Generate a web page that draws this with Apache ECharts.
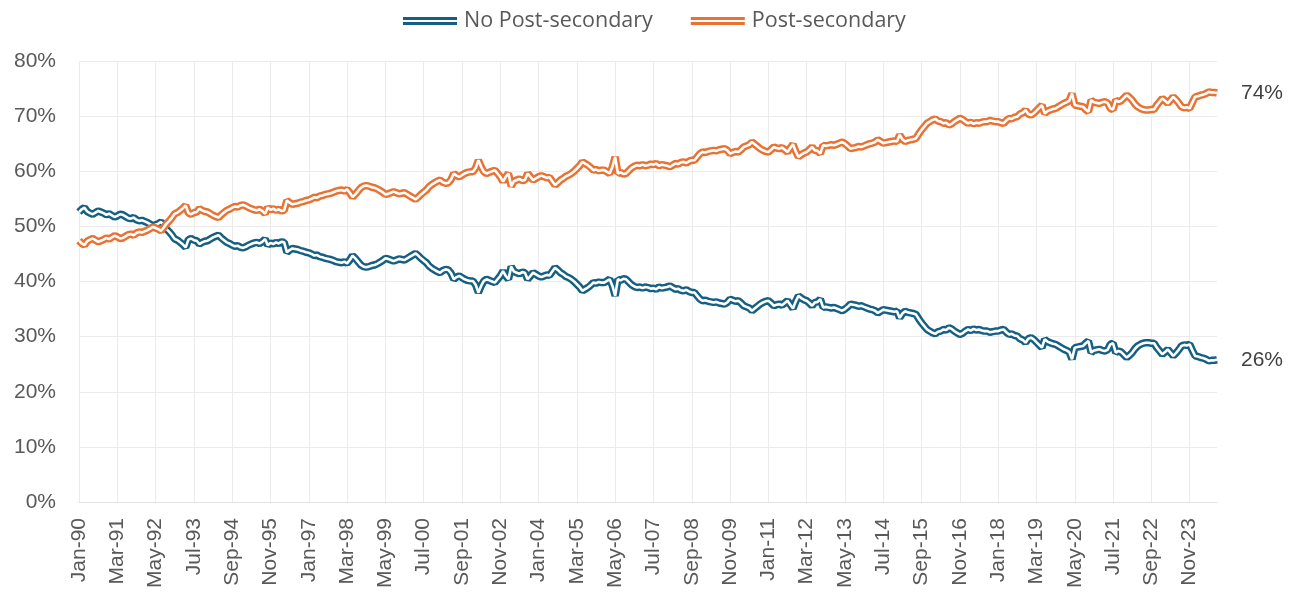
<!DOCTYPE html>
<html>
<head>
<meta charset="utf-8">
<script src="https://cdn.jsdelivr.net/npm/echarts@6/dist/echarts.min.js"></script>
<style>
  html, body { margin: 0; padding: 0; background: #fff; }
  #chart { width: 1294px; height: 593px; }
</style>
</head>
<body>
<div id="chart"></div>
<script>
// monthly share of employment, Jan-90 .. Sep-24
const months = ['Jan', 'Feb', 'Mar', 'Apr', 'May', 'Jun', 'Jul', 'Aug', 'Sep', 'Oct', 'Nov', 'Dec'];
const seriesNames = ['No Post-secondary', 'Post-secondary'];

const postSecondary = [
  47.4, 46.9, 46.6, 47.3, 47.6, 47.8, 47.5, 47.2, 47.4, 47.6, 47.9, 47.7,
  48.0, 48.3, 48.1, 47.8, 47.9, 48.2, 48.5, 48.6, 48.4, 48.8, 49.0, 48.9,
  49.1, 49.3, 49.6, 49.9, 49.7, 49.5, 49.2, 49.8, 50.5, 51.0, 51.6, 52.3,
  52.5, 52.9, 53.3, 53.8, 52.4, 52.2, 52.5, 52.6, 53.2, 52.9, 52.7, 52.6,
  52.3, 52.0, 51.8, 51.6, 52.1, 52.5, 52.9, 53.1, 53.4, 53.6, 53.5, 53.8,
  53.9, 53.7, 53.4, 53.2, 53.0, 52.9, 53.1, 52.8, 52.3, 53.4, 53.0, 53.2,
  52.9, 53.1, 52.8, 52.9, 54.7, 54.3, 54.0, 54.1, 54.2, 54.4, 54.5, 54.7,
  54.8, 55.0, 55.3, 55.2, 55.5, 55.6, 55.8, 55.9, 56.0, 56.2, 56.4, 56.5,
  56.6, 56.4, 56.7, 56.1, 55.3, 55.8, 56.4, 57.0, 57.3, 57.4, 57.3, 57.1,
  57.0, 56.8, 56.5, 56.2, 55.8, 55.9, 56.1, 56.3, 56.1, 55.9, 56.0, 56.1,
  55.8, 55.5, 55.2, 54.9, 55.3, 55.8, 56.2, 56.6, 57.2, 57.6, 57.9, 58.2,
  58.4, 58.0, 57.8, 57.9, 58.5, 59.6, 59.2, 59.0, 59.3, 59.6, 59.8, 59.9,
  59.9, 60.6, 62.0, 60.8, 59.9, 59.6, 59.8, 60.0, 60.2, 59.6, 59.0, 58.1,
  59.0, 59.6, 57.3, 58.2, 58.4, 58.6, 58.3, 58.4, 59.6, 59.0, 58.4, 58.7,
  59.0, 59.2, 59.0, 58.8, 58.9, 58.2, 57.5, 57.9, 58.4, 58.7, 59.1, 59.3,
  59.6, 60.0, 60.5, 61.0, 61.7, 61.4, 61.1, 60.7, 60.2, 60.3, 60.1, 60.2,
  60.2, 59.9, 59.6, 60.8, 62.6, 59.6, 59.8, 59.5, 59.6, 60.1, 60.6, 60.9,
  61.1, 61.0, 61.2, 61.0, 61.1, 61.3, 61.2, 61.4, 61.0, 61.2, 61.1, 61.0,
  60.8, 61.1, 61.4, 61.3, 61.6, 61.7, 61.5, 61.8, 62.0, 62.0, 62.6, 63.2,
  63.5, 63.4, 63.6, 63.7, 63.8, 63.7, 63.9, 64.0, 64.1, 63.8, 63.2, 63.4,
  63.6, 63.5, 63.9, 64.4, 64.6, 64.8, 65.3, 64.9, 64.5, 64.1, 63.8, 63.6,
  63.5, 63.9, 64.4, 64.2, 64.1, 64.3, 63.9, 63.5, 64.2, 64.9, 63.6, 62.6,
  63.0, 63.3, 63.5, 63.9, 64.4, 63.8, 63.7, 63.2, 64.7, 64.6, 64.7, 64.8,
  64.7, 64.9, 65.1, 65.3, 65.0, 64.6, 64.1, 64.2, 64.3, 64.5, 64.4, 64.6,
  64.8, 65.0, 65.1, 65.3, 65.7, 65.4, 65.1, 65.2, 65.3, 65.4, 65.5, 65.4,
  66.6, 65.8, 65.4, 65.6, 65.7, 65.8, 66.0, 66.8, 67.5, 68.1, 68.7, 69.0,
  69.3, 69.5, 69.1, 69.0, 68.7, 68.8, 68.4, 68.6, 69.0, 69.3, 69.6, 69.4,
  69.0, 68.7, 68.9, 68.6, 68.8, 68.7, 68.9, 69.0, 69.0, 69.2, 69.1, 69.0,
  69.0, 68.8, 68.7, 69.2, 69.6, 69.5, 69.8, 69.9, 70.4, 70.6, 71.1, 70.4,
  70.2, 70.5, 71.0, 71.5, 72.0, 70.5, 70.9, 71.1, 71.3, 71.4, 71.7, 72.0,
  72.3, 72.5, 72.8, 74.1, 72.0, 71.9, 71.8, 71.7, 71.2, 70.8, 72.9, 72.5,
  72.4, 72.3, 72.5, 72.6, 72.4, 71.4, 71.2, 72.9, 72.6, 72.8, 73.3, 73.8,
  73.4, 72.9, 72.2, 71.7, 71.4, 71.2, 71.1, 71.1, 71.2, 71.2, 72.0, 72.6,
  73.2, 72.8, 72.3, 72.9, 73.5, 73.0, 72.4, 71.7, 71.5, 71.6, 71.4, 72.5,
  73.5, 73.6, 73.8, 73.9, 74.1, 74.4, 74.3, 74.3, 74.2
];

const noPostSecondary = [
  52.6, 53.1, 53.4, 52.7, 52.4, 52.2, 52.5, 52.8, 52.6, 52.4, 52.1, 52.3,
  52.0, 51.7, 51.9, 52.2, 52.1, 51.8, 51.5, 51.4, 51.6, 51.2, 51.0, 51.1,
  50.9, 50.7, 50.4, 50.1, 50.3, 50.5, 50.8, 50.2, 49.5, 49.0, 48.4, 47.7,
  47.5, 47.1, 46.7, 46.2, 47.6, 47.8, 47.5, 47.4, 46.8, 47.1, 47.3, 47.4,
  47.7, 48.0, 48.2, 48.4, 47.9, 47.5, 47.1, 46.9, 46.6, 46.4, 46.5, 46.2,
  46.1, 46.3, 46.6, 46.8, 47.0, 47.1, 46.9, 47.2, 47.7, 46.6, 47.0, 46.8,
  47.1, 46.9, 47.2, 47.1, 45.3, 45.7, 46.0, 45.9, 45.8, 45.6, 45.5, 45.3,
  45.2, 45.0, 44.7, 44.8, 44.5, 44.4, 44.2, 44.1, 44.0, 43.8, 43.6, 43.5,
  43.4, 43.6, 43.3, 43.9, 44.7, 44.2, 43.6, 43.0, 42.7, 42.6, 42.7, 42.9,
  43.0, 43.2, 43.5, 43.8, 44.2, 44.1, 43.9, 43.7, 43.9, 44.1, 44.0, 43.9,
  44.2, 44.5, 44.8, 45.1, 44.7, 44.2, 43.8, 43.4, 42.8, 42.4, 42.1, 41.8,
  41.6, 42.0, 42.2, 42.1, 41.5, 40.4, 40.8, 41.0, 40.7, 40.4, 40.2, 40.1,
  40.1, 39.4, 38.0, 39.2, 40.1, 40.4, 40.2, 40.0, 39.8, 40.4, 41.0, 41.9,
  41.0, 40.4, 42.7, 41.8, 41.6, 41.4, 41.7, 41.6, 40.4, 41.0, 41.6, 41.3,
  41.0, 40.8, 41.0, 41.2, 41.1, 41.8, 42.5, 42.1, 41.6, 41.3, 40.9, 40.7,
  40.4, 40.0, 39.5, 39.0, 38.3, 38.6, 38.9, 39.3, 39.8, 39.7, 39.9, 39.8,
  39.8, 40.1, 40.4, 39.2, 37.4, 40.4, 40.2, 40.5, 40.4, 39.9, 39.4, 39.1,
  38.9, 39.0, 38.8, 39.0, 38.9, 38.7, 38.8, 38.6, 39.0, 38.8, 38.9, 39.0,
  39.2, 38.9, 38.6, 38.7, 38.4, 38.3, 38.5, 38.2, 38.0, 38.0, 37.4, 36.8,
  36.5, 36.6, 36.4, 36.3, 36.2, 36.3, 36.1, 36.0, 35.9, 36.2, 36.8, 36.6,
  36.4, 36.5, 36.1, 35.6, 35.4, 35.2, 34.7, 35.1, 35.5, 35.9, 36.2, 36.4,
  36.5, 36.1, 35.6, 35.8, 35.9, 35.7, 36.1, 36.5, 35.8, 35.1, 36.4, 37.4,
  37.0, 36.7, 36.5, 36.1, 35.6, 36.2, 36.3, 36.8, 35.3, 35.4, 35.3, 35.2,
  35.3, 35.1, 34.9, 34.7, 35.0, 35.4, 35.9, 35.8, 35.7, 35.5, 35.6, 35.4,
  35.2, 35.0, 34.9, 34.7, 34.3, 34.6, 34.9, 34.8, 34.7, 34.6, 34.5, 34.6,
  33.4, 34.2, 34.6, 34.4, 34.3, 34.2, 34.0, 33.2, 32.5, 31.9, 31.3, 31.0,
  30.7, 30.5, 30.9, 31.0, 31.3, 31.2, 31.6, 31.4, 31.0, 30.7, 30.4, 30.6,
  31.0, 31.3, 31.1, 31.4, 31.2, 31.3, 31.1, 31.0, 31.0, 30.8, 30.9, 31.0,
  31.0, 31.2, 31.3, 30.8, 30.4, 30.5, 30.2, 30.1, 29.6, 29.4, 28.9, 29.6,
  29.8, 29.5, 29.0, 28.5, 28.0, 29.5, 29.1, 28.9, 28.7, 28.6, 28.3, 28.0,
  27.7, 27.5, 27.2, 25.9, 28.0, 28.1, 28.2, 28.3, 28.8, 29.2, 27.1, 27.5,
  27.6, 27.7, 27.5, 27.4, 27.6, 28.6, 28.8, 27.1, 27.4, 27.2, 26.7, 26.2,
  26.6, 27.1, 27.8, 28.3, 28.6, 28.8, 28.9, 28.9, 28.8, 28.8, 28.0, 27.4,
  26.8, 27.2, 27.7, 27.1, 26.5, 27.0, 27.6, 28.3, 28.5, 28.4, 28.6, 27.5,
  26.5, 26.4, 26.2, 26.1, 25.9, 25.6, 25.7, 25.7, 25.8
];

// category labels like "Jan-90"
const categories = [];
for (let i = 0; i < postSecondary.length; i++) {
  const yr = (1990 + Math.floor(i / 12)) % 100;
  categories.push(months[i % 12] + '-' + String(yr).padStart(2, '0'));
}

const BLUE = '#156082';
const ORANGE = '#E97132';
const GRID = '#EBEBEB';
const TEXT = '#595959';
const AXIS_FONT = '"Liberation Sans", Arial, sans-serif';

// excel-style double line: thick coloured stroke with a thin white core
const outerLine = (name, data, color) => ({
  name: name,
  type: 'line',
  data: data,
  showSymbol: false,
  symbol: 'none',
  silent: true,
  itemStyle: { color: color },
  lineStyle: { color: color, width: 7.5 },
  emphasis: { disabled: true },
  endLabel: {
    show: true,
    distance: 24,
    color: '#404040',
    fontSize: 21,
    fontFamily: AXIS_FONT,
    formatter: p => Math.round(p.value) + '%',
  },
});

const innerLine = (name, data) => ({
  name: name,
  type: 'line',
  data: data,
  showSymbol: false,
  symbol: 'none',
  silent: true,
  lineStyle: { color: '#ffffff', width: 2.6 },
  emphasis: { disabled: true },
});

const chart = echarts.init(document.getElementById('chart'), null, { renderer: 'canvas' });

const option = {
  animation: false,
  backgroundColor: '#ffffff',
  legend: {
    data: seriesNames,
    top: 5,
    left: 398,
    itemWidth: 54,
    itemHeight: 8,
    itemGap: 38,
    icon: 'path://M0,0H54V3H0Z M0,5H54V8H0Z',
    textStyle: {
      color: TEXT,
      fontSize: 21.5,
      fontFamily: '"Open Sans", sans-serif',
      padding: [0, 0, 0, 2],
    },
    selectedMode: false,
  },
  grid: {
    left: 79,
    right: 77,
    top: 61,
    bottom: 91,
    containLabel: false,
  },
  xAxis: {
    type: 'category',
    data: categories,
    boundaryGap: false,
    axisLine: { show: true, lineStyle: { color: '#E3E3E3', width: 1 } },
    axisTick: { show: false },
    axisLabel: {
      interval: 13,
      rotate: 90,
      margin: 16,
      color: TEXT,
      fontSize: 21,
      fontFamily: AXIS_FONT,
    },
    splitLine: {
      show: true,
      interval: 13,
      lineStyle: { color: GRID, width: 1 },
    },
  },
  yAxis: {
    type: 'value',
    min: 0,
    max: 80,
    interval: 10,
    axisLine: { show: false },
    axisTick: { show: false },
    axisLabel: {
      formatter: '{value}%',
      margin: 23,
      color: TEXT,
      fontSize: 21,
      fontFamily: AXIS_FONT,
    },
    splitLine: { lineStyle: { color: GRID, width: 1 } },
  },
  series: [
    outerLine(seriesNames[0], noPostSecondary, BLUE),
    innerLine('inner-no', noPostSecondary),
    outerLine(seriesNames[1], postSecondary, ORANGE),
    innerLine('inner-post', postSecondary),
  ],
};

chart.setOption(option);
</script>
</body>
</html>
